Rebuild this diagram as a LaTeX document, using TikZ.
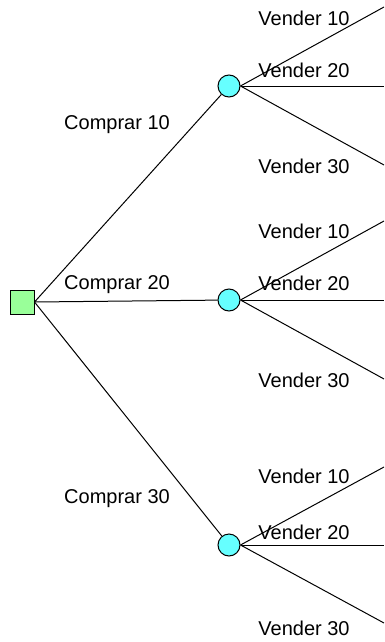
\documentclass[tikz,border=0pt]{standalone}
\usepackage{fontspec}
\setmainfont{Liberation Sans}

\begin{document}
\begin{tikzpicture}[x=1pt, y=-1pt, line width=1pt,
    decision/.style ={rectangle, draw, fill={rgb,255:red,153;green,255;blue,153}, minimum size=24pt, inner sep=0pt},
    chance/.style ={circle, draw, fill={rgb,255:red,102;green,255;blue,255}, minimum size=22pt, inner sep=0pt},
    branch/.style ={font=\fontsize{20}{22}\selectfont, inner sep=0pt}]
   \useasboundingbox (0,0) rectangle (384,642);
   \node[decision] (D)  at (22,302)  {};
   \node[chance] (C1) at (229,86)  {};
   \node[chance] (C2) at (229,300)  {};
   \node[chance] (C3) at (229,545)  {};
   \coordinate (E11) at (384,7);
   \coordinate (E12) at (384,86);
   \coordinate (E13) at (384,165);
   \coordinate (E21) at (384,221);
   \coordinate (E22) at (384,300);
   \coordinate (E23) at (384,379);
   \coordinate (E31) at (384,467);
   \coordinate (E32) at (384,545);
   \coordinate (E33) at (384,623);
   \draw (D.east) to (C1);
   \draw (D.east) to (C2);
   \draw (D.east) to (C3);
   \draw (C1.east) to (E11);
   \draw (C1.east) to (E12);
   \draw (C1.east) to (E13);
   \draw (C2.east) to (E21);
   \draw (C2.east) to (E22);
   \draw (C2.east) to (E23);
   \draw (C3.east) to (E31);
   \draw (C3.east) to (E32);
   \draw (C3.east) to (E33);
   \node[branch] (B1) at (117,125) {Comprar 10};
   \node[branch] (B2) at (117,285) {Comprar 20};
   \node[branch] (B3) at (117,499) {Comprar 30};
   \node[branch] (V11) at (304,18) {Vender 10};
   \node[branch] (V12) at (304,70) {Vender 20};
   \node[branch] (V13) at (304,166) {Vender 30};
   \node[branch] (V21) at (304,231) {Vender 10};
   \node[branch] (V22) at (304,283) {Vender 20};
   \node[branch] (V23) at (304,380) {Vender 30};
   \node[branch] (V31) at (304,476) {Vender 10};
   \node[branch] (V32) at (304,532) {Vender 20};
   \node[branch] (V33) at (304,628) {Vender 30};
 \end{tikzpicture}
\end{document}
